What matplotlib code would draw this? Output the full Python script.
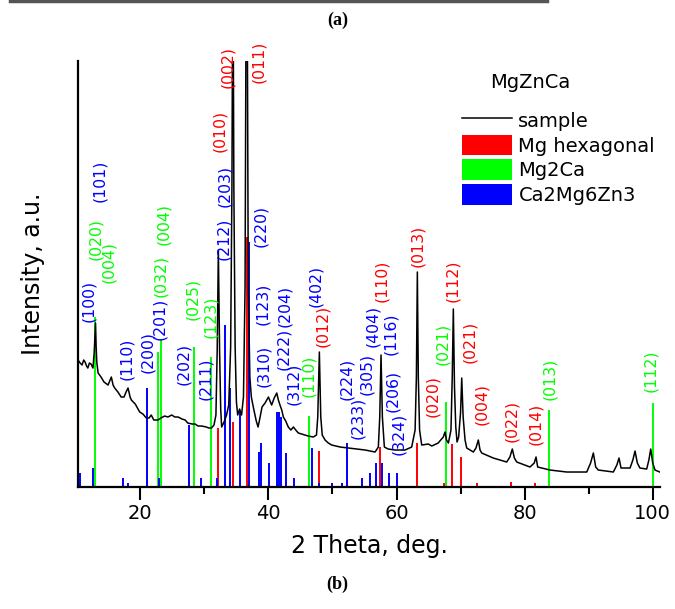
import numpy as np
import matplotlib.pyplot as plt
from matplotlib.patches import Patch
from matplotlib.lines import Line2D

# measured XRD pattern of the MgZnCa alloy (2theta, counts in a.u.)
two_theta = [10.27, 10.6, 10.9, 11.15, 11.37, 11.6, 11.8, 12.05, 12.3, 12.6, 12.8, 12.9, 13.0,
             13.1, 13.2, 13.4, 13.86, 14.33, 14.96, 15.27, 15.47, 15.74, 16.0, 16.5, 17.0, 17.45,
             17.77, 18.08, 18.4, 18.6, 19.2, 19.9, 20.4, 20.94, 21.36, 21.7, 22.1, 22.76, 23.2,
             23.8, 24.3, 24.9, 25.4, 25.9, 26.5, 27.0, 27.4, 28.1, 28.55, 29.0, 29.6, 30.3, 30.7,
             31.1, 31.5, 31.8, 32.0, 32.18, 32.37, 32.55, 32.7, 33.07, 33.46, 33.8, 34.1, 34.3,
             34.45, 34.6, 34.8, 35.0, 35.2, 35.5, 35.8, 36.1, 36.35, 36.6, 36.85, 37.1, 37.33,
             37.7, 38.1, 38.38, 38.7, 39.0, 39.47, 40.0, 40.5, 40.9, 41.3, 41.55, 41.8, 42.08,
             42.33, 42.7, 43.1, 43.5, 43.9, 44.26, 44.67, 45.2, 45.7, 46.2, 47.0, 47.5, 47.7,
             47.95, 48.17, 48.4, 48.84, 49.35, 49.88, 51.2, 52.5, 53.8, 55.1, 56.65, 57.16, 57.38,
             57.58, 57.79, 58.1, 58.7, 59.77, 61.33, 62.37, 62.9, 63.1, 63.25, 63.4, 63.6, 63.93,
             64.96, 65.5, 66.5, 67.3, 67.57, 67.8, 68.1, 68.5, 68.7, 68.87, 69.05, 69.25, 69.45,
             69.7, 70.0, 70.18, 70.4, 70.7, 70.96, 72.0, 72.4, 72.77, 73.04, 73.3, 75.1, 77.2,
             77.7, 78.08, 78.4, 78.77, 80.84, 81.5, 81.78, 82.04, 83.96, 86.57, 89.7, 90.3, 90.73,
             91.1, 91.5, 93.85, 94.4, 94.74, 95.05, 96.46, 96.9, 97.24, 97.6, 98.0, 99.06, 99.4,
             99.69, 100.0, 100.36, 101.1]
counts = [127, 124, 122, 127, 125, 121, 119, 124, 123, 119, 135, 150, 164,
          140, 125, 114, 110, 105, 102, 107, 110, 102, 99, 95, 90, 90,
          95, 99, 90, 87, 83, 75, 73, 69, 69, 72, 67, 67, 69,
          71, 70, 72, 70, 70, 68, 67, 64, 63, 63, 61, 61, 60, 59,
          59, 62, 72, 137, 237, 137, 77, 60, 65, 72, 82, 140, 300,
          560, 300, 140, 85, 72, 78, 72, 90, 200, 650, 200, 110, 90,
          78, 66, 60, 70, 80, 84, 90, 82, 89, 94, 87, 82, 77,
          70, 66, 60, 57, 60, 57, 54, 53, 52, 51, 50, 52, 70,
          135, 70, 52, 47, 44, 42, 40, 39, 38, 37, 35, 40, 70,
          132, 70, 40, 38, 37, 37, 40, 57, 110, 215, 110, 57, 42,
          43, 41, 44, 50, 55, 47, 44, 57, 110, 178, 100, 60, 45,
          50, 75, 109, 70, 47, 39, 35, 39, 47, 37, 34, 29, 25,
          30, 38, 29, 25, 20, 24, 30, 20, 17, 15, 15, 24, 34,
          20, 17, 15, 22, 29, 19, 19, 27, 36, 24, 19, 18, 27,
          38, 24, 17, 15]

# reference stick patterns
mg_pos = [32.18, 34.4, 36.6, 47.85, 57.4, 63.15, 67.35, 68.65, 70.0, 72.5, 77.9, 81.6]
mg_int = [59, 65, 250, 36, 40, 44, 4, 43, 30, 4, 5, 4]

mg2ca_pos = [12.95, 22.8, 23.3, 28.4, 31.0, 46.35, 67.7, 83.75, 100.1]
mg2ca_int = [170, 135, 147, 140, 130, 71, 85, 77, 84]

camgzn_pos = [10.5, 12.6, 17.3, 18.1, 21.1, 22.9, 27.55, 29.5, 31.9, 33.2, 34.0, 35.5,
              36.9, 38.6, 38.9, 40.1, 41.3, 41.6, 41.9, 42.7, 44.0, 46.85, 47.95, 49.9,
              51.45, 52.2, 54.65, 55.9, 56.8, 57.7, 58.8, 60.1]
camgzn_int = [14, 19, 9, 4, 99, 9, 62, 9, 9, 162, 99, 75,
              245, 35, 44, 24, 75, 75, 70, 34, 9, 39, 4, 4,
              4, 44, 9, 14, 24, 24, 14, 14]

# Miller indices written above the peaks
mg_hkl = ['(010)', '(002)', '(011)', '(012)', '(110)', '(013)', '(020)', '(112)', '(021)',
          '(004)', '(022)', '(014)']
mg_hkl_x = [32.45, 33.6, 38.4, 48.5, 57.7, 63.35, 65.6, 68.8, 71.45, 73.3, 78.0, 81.75]
mg_hkl_y = [335, 399, 404, 140, 185, 220, 70, 185, 124, 62, 45, 42]

mg2ca_hkl = ['(020)', '(004)', '(032)', '(004)', '(025)', '(123)', '(110)', '(021)', '(013)',
             '(112)']
mg2ca_hkl_x = [13.0, 15.0, 23.1, 23.6, 28.15, 30.96, 46.2, 67.26, 83.97, 99.7]
mg2ca_hkl_y = [227, 204, 190, 242, 167, 149, 90, 122, 87, 95]

camgzn_hkl = ['(100)', '(101)', '(110)', '(200)', '(201)', '(202)', '(211)', '(212)', '(203)',
              '(220)', '(123)', '(310)', '(222)', '(204)', '(312)', '(402)', '(224)', '(233)',
              '(305)', '(404)', '(116)', '(206)', '(324)']
camgzn_hkl_x = [11.9, 13.7, 17.9, 21.2, 23.0, 26.7, 30.2, 33.07, 33.2, 38.85, 39.15, 39.3,
                42.3, 42.6, 43.9, 47.43, 52.2, 53.9, 55.3, 56.3, 59.06, 59.35, 60.35]
camgzn_hkl_y = [165, 285, 107, 114, 147, 102, 87, 227, 280, 240, 162, 100,
                117, 160, 82, 180, 87, 48, 92, 140, 132, 75, 32]

RED, GREEN, BLUE = '#ff0000', '#00ff00', '#0000ff'

fig = plt.figure(figsize=(6.75, 6.09), dpi=100)
ax = fig.add_axes([0.1156, 0.2003, 0.8622, 0.6995])

ax.vlines(mg_pos, 0, mg_int, colors=RED, lw=1.4, zorder=2)
ax.vlines(mg2ca_pos, 0, mg2ca_int, colors=GREEN, lw=1.4, zorder=2)
ax.vlines(camgzn_pos, 0, camgzn_int, colors=BLUE, lw=1.4, zorder=2)
ax.plot(two_theta, counts, color='black', lw=1.1, zorder=3)

for labels, xs, ys, col in [(mg_hkl, mg_hkl_x, mg_hkl_y, RED),
                            (mg2ca_hkl, mg2ca_hkl_x, mg2ca_hkl_y, GREEN),
                            (camgzn_hkl, camgzn_hkl_x, camgzn_hkl_y, BLUE)]:
    for t, x, y in zip(labels, xs, ys):
        ax.text(x, y, t, rotation=90, ha='center', va='bottom', color=col,
                fontsize=11.3, clip_on=False)

ax.set_xlim(10.27, 101.14)
ax.set_ylim(0, 426)
ax.set_xticks([20, 40, 60, 80, 100])
ax.set_xticks([30, 50, 70, 90], minor=True)
ax.set_yticks([])
ax.tick_params(axis='x', which='major', direction='out', length=9, width=1.5,
               labelsize=14, pad=3)
ax.tick_params(axis='x', which='minor', direction='out', length=5, width=1.5)
for s in ['top', 'right']:
    ax.spines[s].set_visible(False)
for s in ['left', 'bottom']:
    ax.spines[s].set_linewidth(1.6)

ax.set_xlabel('2 Theta, deg.', fontsize=17, labelpad=8)
ax.set_ylabel('Intensity, a.u.', fontsize=17, labelpad=24)

handles = [Line2D([], [], color='black', lw=1.1),
           Patch(facecolor=RED, edgecolor='none'),
           Patch(facecolor=GREEN, edgecolor='none'),
           Patch(facecolor=BLUE, edgecolor='none')]
ax.legend(handles, ['sample', 'Mg hexagonal', 'Mg2Ca', 'Ca2Mg6Zn3'],
          loc='upper left', bbox_to_anchor=(462 / 675, 1 - 110 / 609),
          bbox_transform=fig.transFigure, frameon=False, fontsize=14,
          borderpad=0, borderaxespad=0, handlelength=2.55, handleheight=1.25,
          handletextpad=0.35, labelspacing=0.2)
fig.text(530 / 675, 1 - 82 / 609, 'MgZnCa', ha='center', va='center', fontsize=14)

fig.text(0.5, 1 - 20 / 609, '(a)', ha='center', va='center', fontsize=13,
         family='Liberation Serif', weight='bold')
fig.text(0.5, 1 - 584 / 609, '(b)', ha='center', va='center', fontsize=13,
         family='Liberation Serif', weight='bold')
fig.add_artist(Line2D([0.015, 0.81], [0.998, 0.998], color='#555555', lw=2.5))

fig.savefig('out.png', dpi=100)
